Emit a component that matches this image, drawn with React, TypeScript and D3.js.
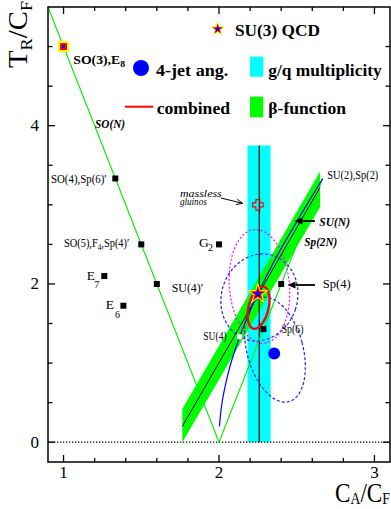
import React from 'react';
import * as d3 from 'd3';

const W = 391;
const H = 509;
const PLOT = { left: 48, right: 390, top: 7, bottom: 462 };
const X_DOMAIN = [0.9, 3.1];
const Y_DOMAIN = [-0.25, 5.5];

const xTickLabels = [1, 2, 3];
const yTickLabels = [0, 2, 4];
const xMinorTicks = [1, 1.2, 1.4, 1.6, 1.8, 2, 2.2, 2.4, 2.6, 2.8, 3];
const yMinorTicks = [0, 0.5, 1, 1.5, 2, 2.5, 3, 3.5, 4, 4.5, 5];

// Group theory points (C_A/C_F, n_f T_R/C_F)
const groupNames = ['SO(4)', 'SO(5)', "SU(4)'", 'E7', 'E6', 'G2', 'Sp(4)', 'Sp(6)'];
const groupCA = [1.333, 1.5, 1.6, 1.262, 1.385, 2.0, 2.4, 2.286];
const groupTR = [3.333, 2.5, 2.0, 2.1, 1.725, 2.5, 2.0, 1.429];

// SO(N) / Sp(2N) family line
const soSpCA = [0.9, 2.0, 2.667];
const soSpTR = [5.5, 0.0, 3.333];

// SU(N) curve
const suCA = [2.667, 2.381, 2.25, 2.178, 2.133, 2.083, 2.057, 2.032, 2.02, 2.012, 2.007, 2.003];
const suTR = [3.333, 2.381, 1.875, 1.556, 1.333, 1.042, 0.857, 0.635, 0.505, 0.387, 0.295, 0.2];

// SU(3) QCD, SO(3)/E8, SU(4) open, massless gluinos
const qcdPoint = [2.25, 1.875];
const so3Point = [1.0, 5.0];
const su4Point = [2.133, 1.333];
const gluinoPoint = [2.25, 3.0];

// 4-jet angular best fit
const fourJetPoint = [2.355, 1.12];

// g/q multiplicity band
const gqRange = [2.183, 2.332];
const gqCentre = 2.259;
const gqTop = 3.75;

// beta-function band
const betaCA = [1.764, 2.65];
const betaLow = [0.0, 2.97];
const betaHigh = [0.42, 3.42];
const betaCentre = [0.2, 3.22];

// Contours: centre CA, centre TR, half-width CA, half-height TR, tilt (deg)
const combinedEllipse = [2.254, 1.7, 0.064, 0.273, 14];
const pinkEllipse = [2.26, 1.97, 0.193, 0.72, -5];
const blueEllipseA = [2.26, 1.83, 0.244, 0.556, 18];
const blueEllipseB = [2.36, 1.17, 0.18, 0.68, -15];

const FONT = 'Liberation Serif';

type Part = { t: string; sub?: boolean };

function Label(props: {
  x: number; y: number; parts: Part[]; size: number; w?: number;
  bold?: boolean; italic?: boolean; subDy?: number; subScale?: number;
}) {
  const { x, y, parts, size, w, bold, italic } = props;
  const sd = props.subDy ?? size * 0.3;
  const ss = props.subScale ?? 0.7;
  let cur = 0;
  return (
    <text
      x={x}
      y={y}
      fontFamily={FONT}
      fontSize={size}
      fontWeight={bold ? 'bold' : 'normal'}
      fontStyle={italic ? 'italic' : 'normal'}
      textLength={w}
      lengthAdjust={w ? 'spacingAndGlyphs' : undefined}
      fill="#000"
    >
      {parts.map((p, i) => {
        const target = p.sub ? sd : 0;
        const dy = target - cur;
        cur = target;
        return (
          <tspan key={i} dy={dy} fontSize={p.sub ? size * ss : size}>
            {p.t}
          </tspan>
        );
      })}
    </text>
  );
}

const starPath = (r: number) => d3.symbol(d3.symbolStar, (r * r) / 0.8908130915292852)() as string;

function Star({ cx, cy, r }: { cx: number; cy: number; r: number }) {
  return (
    <g transform={`translate(${cx},${cy})`}>
      <path d={starPath(r)} fill="#ffff00" />
      <path d={starPath(r * 0.74)} fill="#ff0000" />
      <path d={starPath(r * 0.42)} fill="#0000ff" />
    </g>
  );
}

function Arrow({ x1, y1, x2, y2, width, head, filled }: any) {
  const ang = Math.atan2(y2 - y1, x2 - x1);
  const hl = head;
  const hw = head * 0.45;
  const bx = x2 - hl * Math.cos(ang);
  const by = y2 - hl * Math.sin(ang);
  const px = -Math.sin(ang) * hw;
  const py = Math.cos(ang) * hw;
  return (
    <g>
      <line x1={x1} y1={y1} x2={filled ? bx : x2} y2={filled ? by : y2} stroke="#000" strokeWidth={width} />
      {filled ? (
        <path d={`M${x2},${y2}L${bx + px},${by + py}L${bx - px},${by - py}Z`} fill="#000" />
      ) : (
        <path d={`M${bx + px},${by + py}L${x2},${y2}L${bx - px},${by - py}`} fill="none" stroke="#000" strokeWidth={width} />
      )}
    </g>
  );
}

export default function App() {
  const x = d3.scaleLinear().domain(X_DOMAIN).range([PLOT.left, PLOT.right]);
  const y = d3.scaleLinear().domain(Y_DOMAIN).range([PLOT.bottom, PLOT.top]);

  const line = d3.line<[number, number]>().x((d) => x(d[0])).y((d) => y(d[1]));
  const curve = d3
    .line<[number, number]>()
    .x((d) => x(d[0]))
    .y((d) => y(d[1]))
    .curve(d3.curveCatmullRom);

  const ellipse = (e: number[], props: any, key: string) => {
    const [cx, cy, rx, ry, ang] = e;
    const rxp = x(cx + rx) - x(cx);
    const ryp = y(cy) - y(cy + ry);
    return (
      <ellipse
        key={key}
        cx={0}
        cy={0}
        rx={rxp}
        ry={ryp}
        transform={`translate(${x(cx)},${y(cy)}) rotate(${ang})`}
        fill="none"
        {...props}
      />
    );
  };

  const soSpPts = soSpCA.map((c, i) => [c, soSpTR[i]] as [number, number]);
  const suPts = suCA.map((c, i) => [c, suTR[i]] as [number, number]);
  const betaPoly: [number, number][] = [
    [betaCA[0], betaLow[0]],
    [betaCA[0], betaHigh[0]],
    [betaCA[1], betaHigh[1]],
    [betaCA[1], betaLow[1]],
  ];
  const betaLine = betaCA.map((c, i) => [c, betaCentre[i]] as [number, number]);

  const sq = 6;
  const gx = x(gluinoPoint[0]);
  const gy = y(gluinoPoint[1]);
  const cs = 5.2;
  const cw = 2;
  const crossPath = `M${gx - cw},${gy - cs}H${gx + cw}V${gy - cw}H${gx + cs}V${gy + cw}H${gx + cw}V${gy + cs}H${gx - cw}V${gy + cw}H${gx - cs}V${gy - cw}H${gx - cw}Z`;

  return (
    <svg width={W} height={H} style={{ position: 'absolute', left: 0, top: 0, background: '#fff' }}>
      <rect x={0} y={0} width={W} height={H} fill="#fff" />

      {/* g/q multiplicity band */}
      <rect
        x={x(gqRange[0])}
        y={y(gqTop)}
        width={x(gqRange[1]) - x(gqRange[0])}
        height={y(0) - y(gqTop)}
        fill="#00ffff"
      />
      {/* beta function band */}
      <path d={line(betaPoly) + 'Z'} fill="#00ff00" />
      <line x1={x(gqCentre)} x2={x(gqCentre)} y1={y(0)} y2={y(gqTop)} stroke="#000" strokeWidth={1.2} />

      {/* zero line */}
      <line x1={PLOT.left} x2={PLOT.right} y1={y(0)} y2={y(0)} stroke="#000" strokeWidth={1.3} strokeDasharray="1.3,1.7" />

      {/* SO(N)/Sp(2N) line */}
      <path d={line(soSpPts) as string} fill="none" stroke="#00ee00" strokeWidth={1.1} />
      {/* beta centre line */}
      <path d={line(betaLine) as string} fill="none" stroke="#000" strokeWidth={1} />
      {/* SU(N) curve */}
      <path d={curve(suPts) as string} fill="none" stroke="#0000ff" strokeWidth={1.2} />

      {/* contours */}
      {ellipse(blueEllipseA, { stroke: '#2222ff', strokeWidth: 1.2, strokeDasharray: '3,2' }, 'ba')}
      {ellipse(blueEllipseB, { stroke: '#2222ff', strokeWidth: 1.2, strokeDasharray: '3,2' }, 'bb')}
      {ellipse(pinkEllipse, { stroke: '#ff00ff', strokeWidth: 1.2, strokeDasharray: '2,2' }, 'pk')}
      {ellipse(combinedEllipse, { stroke: '#ff0000', strokeWidth: 2.3 }, 'red')}

      {/* group points */}
      {groupNames.map((n, i) => (
        <rect key={n} x={x(groupCA[i]) - sq / 2} y={y(groupTR[i]) - sq / 2} width={sq} height={sq} fill="#000" />
      ))}
      <rect x={x(su4Point[0]) - 2.5} y={y(su4Point[1]) - 2.5} width={5} height={5} fill="#fff" />

      {/* SO(3), E8 */}
      <rect x={x(so3Point[0]) - 5.5} y={y(so3Point[1]) - 5.5} width={11} height={11} fill="#ffff00" />
      <rect x={x(so3Point[0]) - 3.5} y={y(so3Point[1]) - 3.5} width={7} height={7} fill="#ff0000" />
      <rect x={x(so3Point[0]) - 1.5} y={y(so3Point[1]) - 1.5} width={3} height={3} fill="#0000ff" />

      {/* 4-jet */}
      <circle cx={x(fourJetPoint[0])} cy={y(fourJetPoint[1])} r={6} fill="#0000ff" />

      {/* gluinos */}
      <path d={crossPath} fill="none" stroke="#ff0000" strokeWidth={1.2} />

      {/* QCD star */}
      <Star cx={x(qcdPoint[0])} cy={y(qcdPoint[1])} r={11.5} />

      {/* arrows */}
      <Arrow x1={221} y1={198} x2={242.5} y2={203.3} width={1} head={6} filled={false} />
      <Arrow x1={315} y1={221} x2={294.5} y2={221} width={1.8} head={8} filled />
      <Arrow x1={315} y1={285} x2={287.5} y2={285} width={1.8} head={8} filled />

      {/* labels */}
      <Label x={73.3} y={64} size={13} bold w={51.7} parts={[{ t: 'SO(3),E' }, { t: '8', sub: true }]} subDy={2.5} />
      <Label x={95} y={128} size={13.5} bold italic w={30} parts={[{ t: 'SO(N)' }]} />
      <Label x={51} y={183} size={13} w={55.7} parts={[{ t: 'SO(4),Sp(6)′' }]} />
      <Label x={64} y={247} size={13} w={65.3} parts={[{ t: 'SO(5),F' }, { t: '4', sub: true }, { t: ',Sp(4)′' }]} subDy={3} />
      <Label x={86.7} y={280} size={13.5} parts={[{ t: 'E' }]} />
      <Label x={94.3} y={287.5} size={10} parts={[{ t: '7' }]} />
      <Label x={105.7} y={309} size={13.5} parts={[{ t: 'E' }]} />
      <Label x={115} y={318} size={10} parts={[{ t: '6' }]} />
      <Label x={199} y={247} size={13.5} parts={[{ t: 'G' }]} />
      <Label x={208} y={250.5} size={10} parts={[{ t: '2' }]} />
      <Label x={171.7} y={291.5} size={13} w={31.7} parts={[{ t: 'SU(4)′' }]} />
      <Label x={203.3} y={340} size={12.5} w={23.3} parts={[{ t: 'SU(4)' }]} />
      <Label x={281.7} y={333} size={12.5} w={21.7} parts={[{ t: 'Sp(6)' }]} />
      <Label x={322.7} y={288} size={12.5} w={28} parts={[{ t: 'Sp(4)' }]} />
      <Label x={319.3} y={225.5} size={13.5} bold italic w={30.7} parts={[{ t: 'SU(N)' }]} />
      <Label x={304.3} y={245.7} size={13.5} bold italic w={33} parts={[{ t: 'Sp(2N)' }]} />
      <Label x={327.3} y={178.7} size={11.5} w={51} parts={[{ t: 'SU(2),Sp(2)' }]} />
      <Label x={180} y={197.3} size={10} italic w={41.7} parts={[{ t: 'massless' }]} />
      <Label x={180} y={204.5} size={10} italic w={26.7} parts={[{ t: 'gluinos' }]} />

      {/* legend */}
      <Star cx={217.7} cy={29} r={7.8} />
      <Label x={235} y={35.5} size={16.5} bold w={85} parts={[{ t: 'SU(3) QCD' }]} />
      <circle cx={141} cy={68} r={8} fill="#0000ff" />
      <Label x={156} y={76} size={16.5} bold w={72.3} parts={[{ t: '4-jet ang.' }]} />
      <rect x={250} y={56.7} width={13.3} height={20} fill="#00ffff" />
      <Label x={268.3} y={76} size={16.5} bold w={113.4} parts={[{ t: 'g/q multiplicity' }]} />
      <line x1={125} x2={153.3} y1={106.7} y2={106.7} stroke="#ff0000" strokeWidth={2} />
      <Label x={156.7} y={114} size={16.5} bold w={73.3} parts={[{ t: 'combined' }]} />
      <rect x={250} y={96.7} width={13.3} height={20.6} fill="#00ff00" />
      <Label x={268.3} y={114} size={16.5} bold w={77.7} parts={[{ t: 'β-function' }]} />

      {/* frame */}
      <rect
        x={PLOT.left}
        y={PLOT.top}
        width={PLOT.right - PLOT.left}
        height={PLOT.bottom - PLOT.top}
        fill="none"
        stroke="#000"
        strokeWidth={1.5}
      />
      {/* ticks */}
      {xMinorTicks.map((t) => {
        const len = xTickLabels.includes(t) ? 7 : 4;
        return (
          <g key={'xt' + t}>
            <line x1={x(t)} x2={x(t)} y1={PLOT.bottom} y2={PLOT.bottom - len} stroke="#000" strokeWidth={1.3} />
            <line x1={x(t)} x2={x(t)} y1={PLOT.top} y2={PLOT.top + len} stroke="#000" strokeWidth={1.3} />
          </g>
        );
      })}
      {yMinorTicks.map((t) => {
        const len = yTickLabels.includes(t) ? 7 : 4.5;
        return (
          <g key={'yt' + t}>
            <line x1={PLOT.left} x2={PLOT.left + len} y1={y(t)} y2={y(t)} stroke="#000" strokeWidth={1.3} />
            <line x1={PLOT.right} x2={PLOT.right - len} y1={y(t)} y2={y(t)} stroke="#000" strokeWidth={1.3} />
          </g>
        );
      })}
      {xTickLabels.map((t) => (
        <text key={'xl' + t} x={x(t)} y={478} textAnchor="middle" fontFamily={FONT} fontSize={17}>
          {t}
        </text>
      ))}
      {yTickLabels.map((t) => (
        <text key={'yl' + t} x={39} y={y(t) + 5.5} textAnchor="end" fontFamily={FONT} fontSize={17}>
          {t}
        </text>
      ))}

      {/* axis titles */}
      <text
        transform="translate(27,68) rotate(-90)"
        fontFamily={FONT}
        fontSize={27}
        textLength={67}
        lengthAdjust="spacingAndGlyphs"
      >
        <tspan>T</tspan>
        <tspan dy={5} fontSize={17}>R</tspan>
        <tspan dy={-5}>/C</tspan>
        <tspan dy={5} fontSize={17}>F</tspan>
      </text>
      <text x={335} y={502} fontFamily={FONT} fontSize={27} textLength={55} lengthAdjust="spacingAndGlyphs">
        <tspan>C</tspan>
        <tspan dy={2} fontSize={16}>A</tspan>
        <tspan dy={-2}>/C</tspan>
        <tspan dy={2} fontSize={16}>F</tspan>
      </text>
    </svg>
  );
}
